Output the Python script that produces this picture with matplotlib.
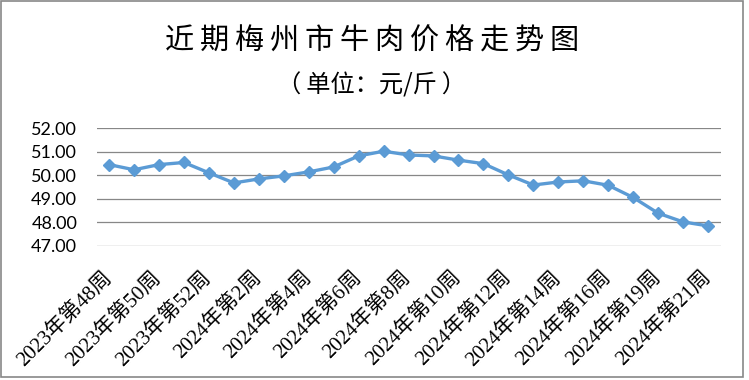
import matplotlib.pyplot as plt
from matplotlib.patches import Rectangle
import numpy as np

weeks = ['2023年第48周', '2023年第49周', '2023年第50周', '2023年第51周', '2023年第52周',
         '2024年第1周', '2024年第2周', '2024年第3周', '2024年第4周', '2024年第5周',
         '2024年第6周', '2024年第7周', '2024年第8周', '2024年第9周', '2024年第10周',
         '2024年第11周', '2024年第12周', '2024年第13周', '2024年第14周', '2024年第15周',
         '2024年第16周', '2024年第17周', '2024年第19周', '2024年第20周', '2024年第21周']
price = [50.46, 50.24, 50.46, 50.55, 50.11, 49.68, 49.85, 49.98, 50.15, 50.36,
         50.83, 51.03, 50.87, 50.83, 50.65, 50.50, 50.02, 49.59, 49.72, 49.77,
         49.58, 49.06, 48.39, 48.02, 47.85]
yticks = [47, 48, 49, 50, 51, 52]

cjk = ['Noto Sans CJK SC', 'DejaVu Sans']
x = np.arange(len(weeks))

fig = plt.figure(figsize=(7.49, 3.80), dpi=100)
ax = fig.add_axes([0.129, 0.353, 0.833, 0.309])

ax.plot(x, price, color='#5B9BD5', lw=2.4, marker='D', markersize=6.5, zorder=3)

ax.set_xlim(-0.5, len(weeks) - 0.5)
ax.set_ylim(47, 52)
ax.set_yticks(yticks)
ax.set_yticklabels(['%.2f' % v for v in yticks], family='Lato', fontsize=13)
ax.yaxis.grid(True, color='#878787', lw=0.9)
ax.set_axisbelow(True)
for s in ax.spines.values():
    s.set_visible(False)
ax.tick_params(axis='y', length=0, pad=14)
ax.tick_params(axis='x', length=0, pad=21)

ax.set_xticks(x[::2])
ax.set_xticklabels(weeks[::2], rotation=45, ha='right', va='center',
                   rotation_mode='anchor', fontsize=15, weight='light',
                   family=['Liberation Serif', 'Noto Sans CJK SC'])

title = '\u2009'.join('近期梅州市牛肉价格走势图')
fig.text(0.497, 0.891, title, ha='center', va='center', fontsize=21,
         weight='light', family=cjk)
fig.text(0.496, 0.774, '（\u2009单位：元/斤\u2009）', ha='center', va='center',
         fontsize=17.5, weight='light', family=cjk)

fig.patches.append(Rectangle((0.5 / 749, 3 / 380), 742 / 749, 376 / 380,
                             transform=fig.transFigure, fill=False,
                             edgecolor='#878787', lw=1.2))

fig.savefig('out.png', dpi=100)
